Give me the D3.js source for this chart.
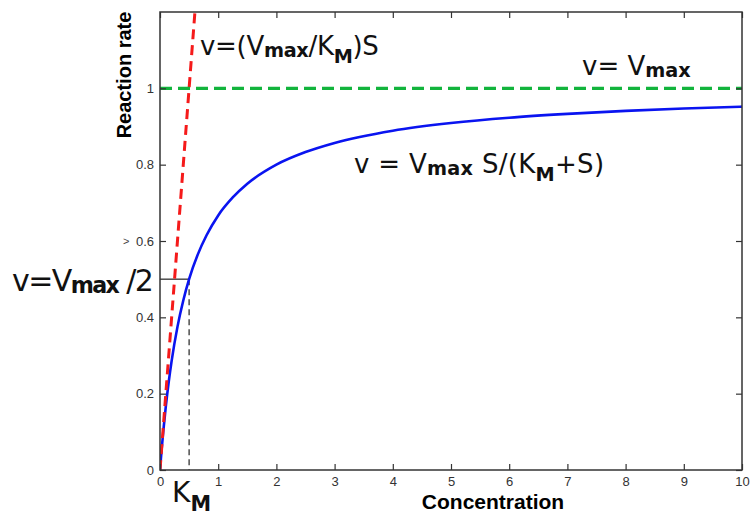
<!DOCTYPE html>
<html>
<head>
<meta charset="utf-8">
<script src="https://cdn.jsdelivr.net/npm/d3@7"></script>
<style>
  body { margin: 0; background: #fff; }
  svg { display: block; }
  .tick text { font-family: "Liberation Sans", Arial, sans-serif; font-size: 13px; fill: #333; }
  .ann { font-family: "DejaVu Sans", sans-serif; fill: #111; }
  .ann .sub { font-weight: bold; }
</style>
</head>
<body>
<svg id="chart" width="751" height="519"></svg>
<script>
// values
const concentration = [0, 0.03, 0.06, 0.1, 0.15, 0.2, 0.3, 0.4, 0.5, 0.65, 0.8, 1, 1.25, 1.5, 2, 2.5, 3, 4, 5, 6, 7, 8, 9, 10];
const rate = [0, 0.057, 0.107, 0.167, 0.231, 0.286, 0.375, 0.444, 0.5, 0.565, 0.615, 0.667, 0.714, 0.75, 0.8, 0.833, 0.857, 0.889, 0.909, 0.923, 0.933, 0.941, 0.947, 0.952];
const initialSlope = [[0, 0], [0.6, 1.2]];    // v = (Vmax/Km) S
const vmaxLine = [[0, 1], [10, 1]];
const km = 0.5, halfV = 0.5;
const xTicks = [0, 1, 2, 3, 4, 5, 6, 7, 8, 9, 10];
const yTicks = [0, 0.2, 0.4, 0.6, 0.8, 1];

const svg = d3.select("#chart");
const margin = {left: 160, top: 12, right: 9, bottom: 49};
const W = 751 - margin.left - margin.right;
const H = 519 - margin.top - margin.bottom;

const x = d3.scaleLinear().domain([0, 10]).range([0, W]);
const y = d3.scaleLinear().domain([0, 1.2]).range([H, 0]);

const g = svg.append("g").attr("transform", `translate(${margin.left},${margin.top})`);

g.append("clipPath").attr("id", "plotclip")
  .append("rect").attr("width", W).attr("height", H);

const plot = g.append("g").attr("clip-path", "url(#plotclip)");

// Km guide lines
plot.append("line")
  .attr("x1", x(0)).attr("x2", x(km))
  .attr("y1", y(halfV)).attr("y2", y(halfV))
  .attr("stroke", "#222").attr("stroke-width", 1.2);
plot.append("line")
  .attr("x1", x(km)).attr("x2", x(km))
  .attr("y1", y(halfV)).attr("y2", y(0))
  .attr("stroke", "#222").attr("stroke-width", 1.2)
  .attr("stroke-dasharray", "6,4");

const line = d3.line().x(d => x(d[0])).y(d => y(d[1]));

plot.append("path")
  .datum(d3.zip(concentration, rate))
  .attr("d", line.curve(d3.curveMonotoneX))
  .attr("fill", "none").attr("stroke", "#0a14f0").attr("stroke-width", 2.6);

plot.append("path")
  .datum(initialSlope)
  .attr("d", d3.line().x(d => x(d[0])).y(d => y(d[1])))
  .attr("fill", "none").attr("stroke", "#f51a1a").attr("stroke-width", 3)
  .attr("stroke-dasharray", "10,6");

plot.append("path")
  .datum(vmaxLine)
  .attr("d", d3.line().x(d => x(d[0])).y(d => y(d[1])))
  .attr("fill", "none").attr("stroke", "#12b43c").attr("stroke-width", 3.4)
  .attr("stroke-dasharray", "12,6");

// box axes, ticks pointing inward
const fmt = d => String(+d.toFixed(1));
function styleAxis(sel) {
  sel.selectAll(".tick line").attr("stroke", "#333").attr("stroke-width", 1.2);
}
g.append("g").attr("transform", `translate(0,${H})`)
  .call(d3.axisBottom(x).tickValues(xTicks).tickFormat(fmt).tickSize(-6).tickSizeOuter(0).tickPadding(7))
  .call(styleAxis);
g.append("g")
  .call(d3.axisTop(x).tickValues(xTicks).tickFormat("").tickSize(-6).tickSizeOuter(0))
  .call(styleAxis);
g.append("g")
  .call(d3.axisLeft(y).tickValues(yTicks).tickFormat(fmt).tickSize(-6).tickSizeOuter(0).tickPadding(6))
  .call(styleAxis);
g.append("g").attr("transform", `translate(${W},0)`)
  .call(d3.axisRight(y).tickValues(yTicks).tickFormat("").tickSize(-6).tickSizeOuter(0))
  .call(styleAxis);
g.selectAll(".domain").remove();
g.append("rect").attr("width", W).attr("height", H)
  .attr("fill", "none").attr("stroke", "#333").attr("stroke-width", 1.5);

// stray mark next to the 0.6 tick
g.append("text").attr("x", -37).attr("y", y(0.6)).attr("dy", "0.35em")
  .attr("font-family", "Liberation Sans, Arial, sans-serif").attr("font-size", 11).attr("fill", "#444")
  .text(">");

// axis titles
svg.append("text")
  .attr("transform", `translate(131,75) rotate(-90)`)
  .attr("text-anchor", "middle")
  .attr("font-family", "Liberation Sans, Arial, sans-serif").attr("font-weight", "bold").attr("font-size", 20)
  .text("Reaction rate");
svg.append("text")
  .attr("x", 493).attr("y", 509)
  .attr("text-anchor", "middle")
  .attr("font-family", "Liberation Sans, Arial, sans-serif").attr("font-weight", "bold").attr("font-size", 21)
  .text("Concentration");

// formula annotations built from plain text and subscript pieces
function annotate(px, py, size, parts, spacing) {
  const t = svg.append("text").attr("class", "ann").attr("x", px).attr("y", py)
    .attr("font-size", size).attr("letter-spacing", spacing || 0);
  let shift = 0;
  parts.forEach(p => {
    const want = p.sub === "M" ? size * 0.32 : (p.sub ? size * 0.06 : 0);
    const s = t.append("tspan").text(p.t).attr("dy", want - shift);
    if (p.sub) s.attr("class", "sub").attr("font-size", size * 0.74);
    shift = want;
  });
  return t;
}

annotate(200, 55, 26, [{t: "v=(V"}, {t: "max", sub: true}, {t: "/K"}, {t: "M", sub: "M"}, {t: ")S"}], -0.3);
annotate(582, 75, 26, [{t: "v= V"}, {t: "max", sub: true}]);
annotate(354, 173, 26, [{t: "v = V"}, {t: "max", sub: true}, {t: " S/(K"}, {t: "M", sub: "M"}, {t: "+S)"}], 0.3);
annotate(12, 291, 30, [{t: "v=V"}, {t: "max", sub: true}, {t: " /2"}], -1.6);
annotate(172, 502, 28, [{t: "K"}, {t: "M", sub: "M"}]);
</script>
</body>
</html>
